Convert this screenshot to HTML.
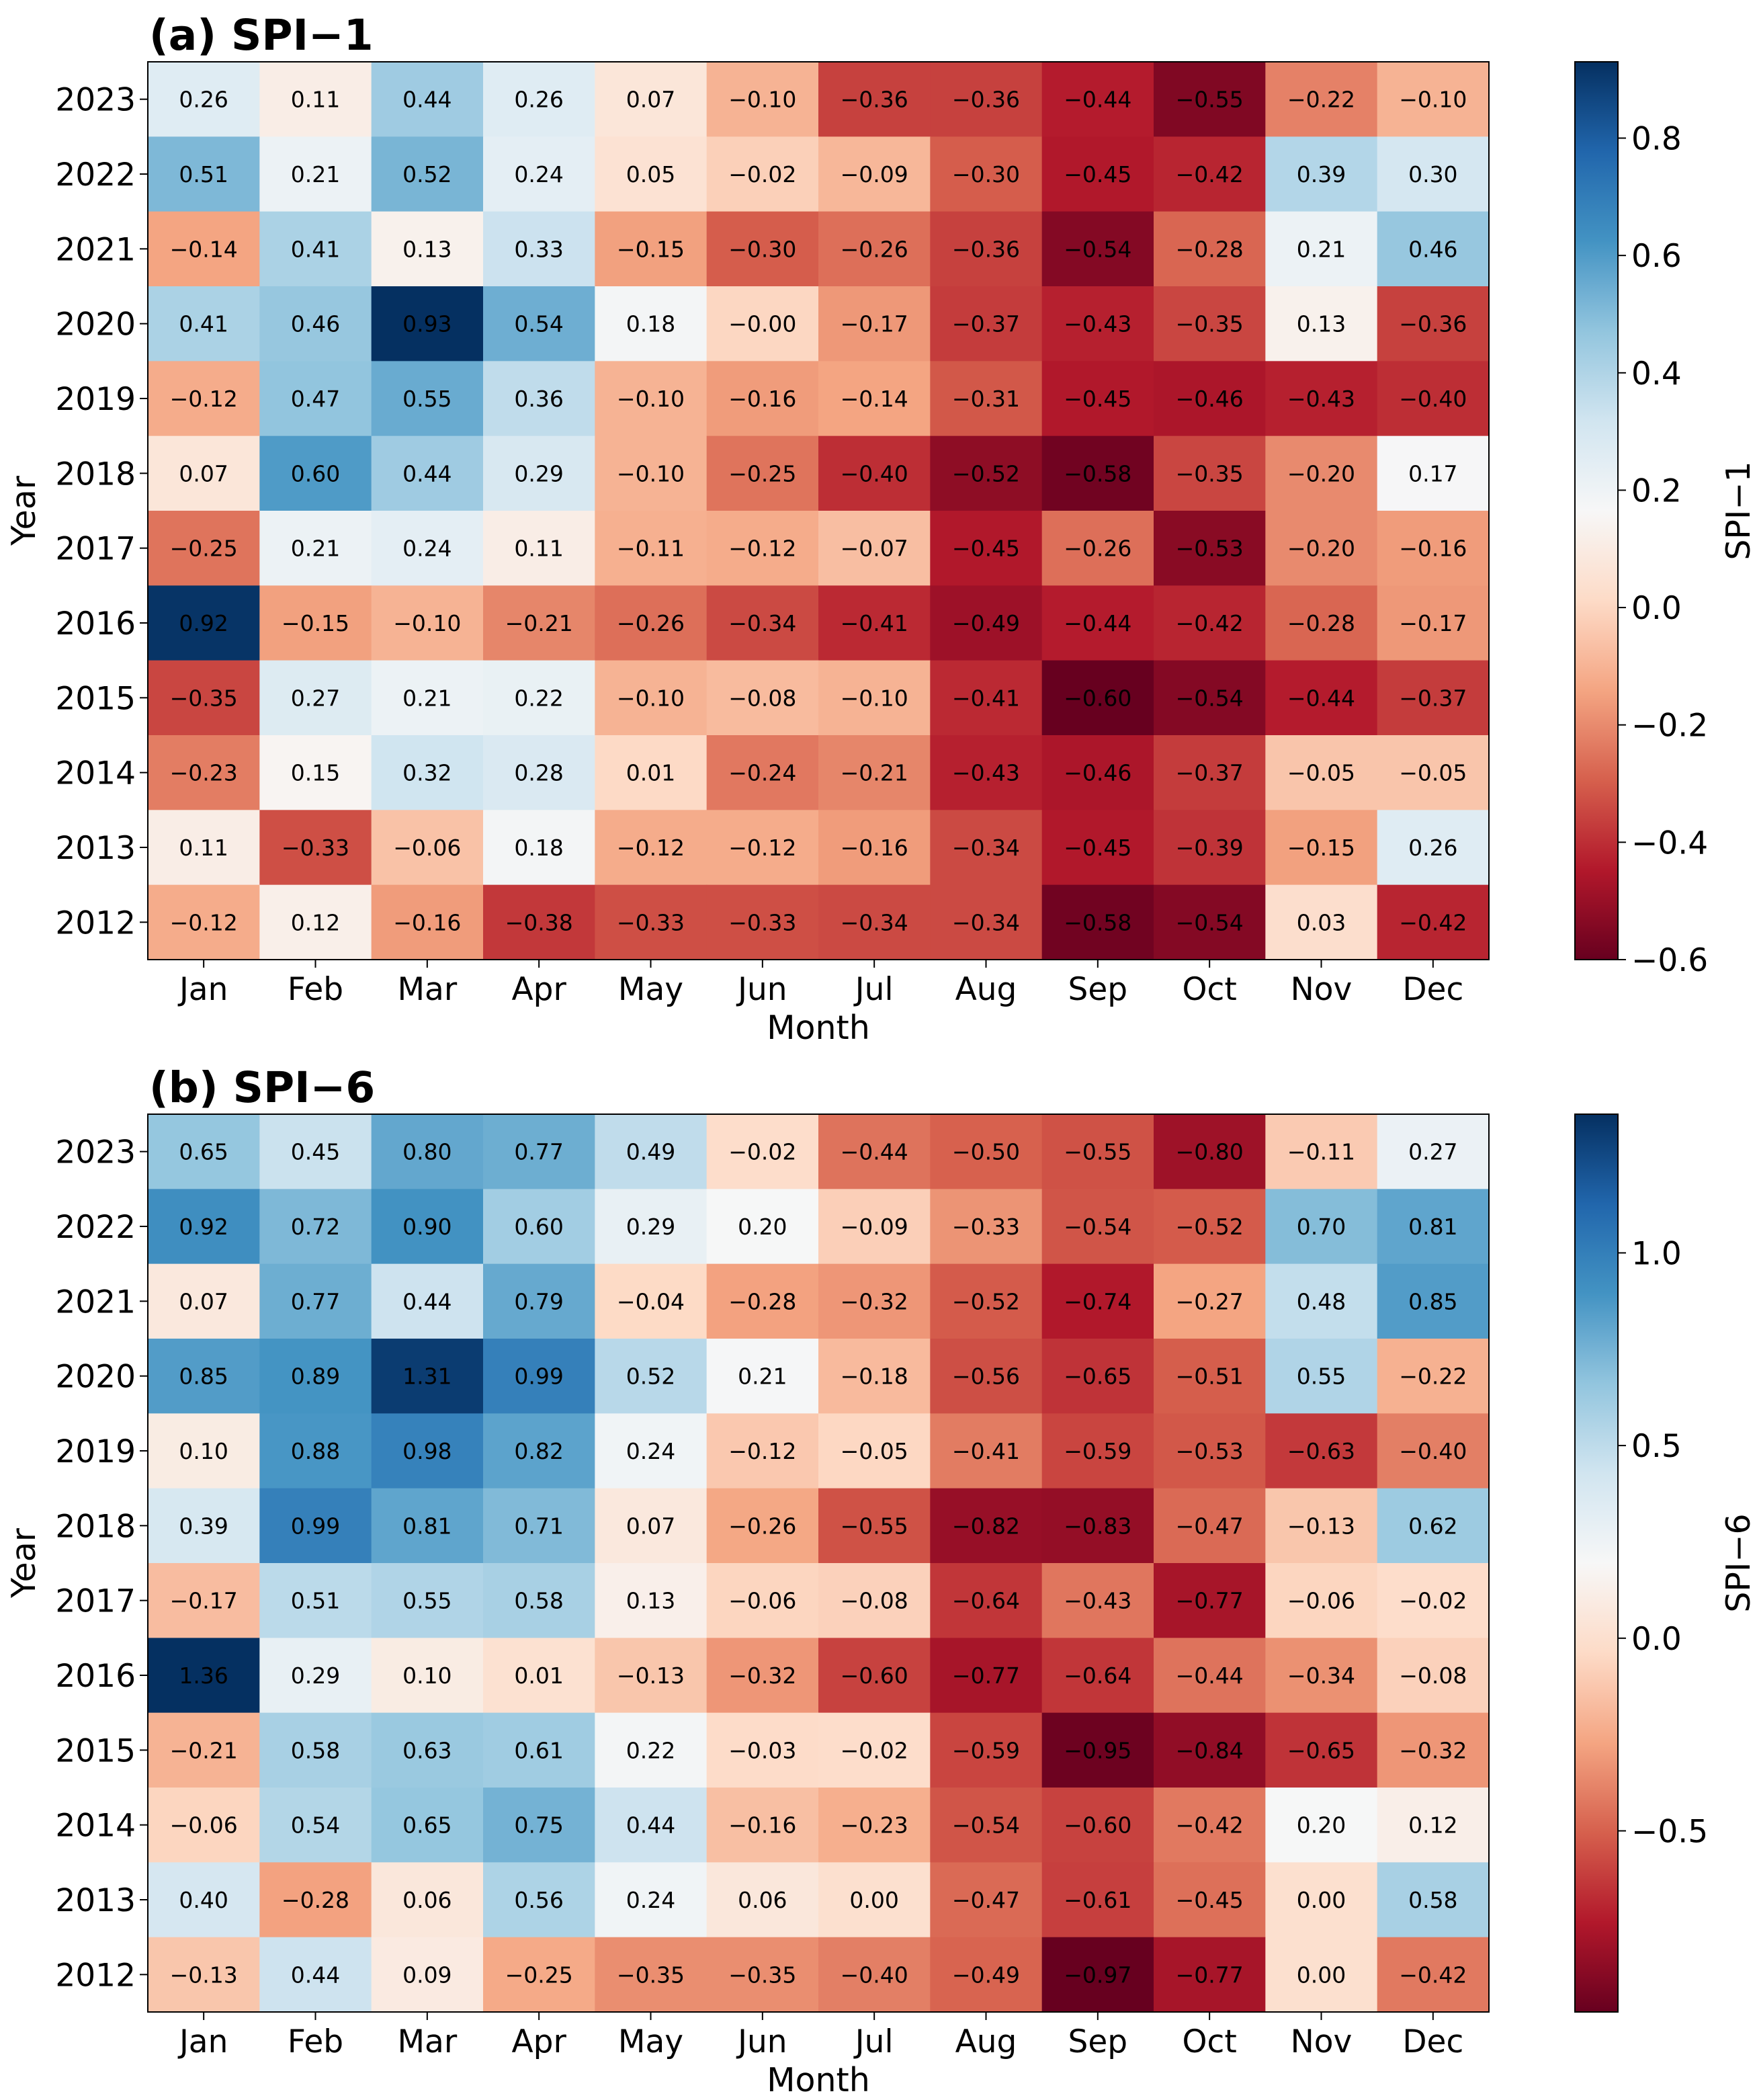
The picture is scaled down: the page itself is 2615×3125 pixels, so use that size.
<!DOCTYPE html>
<html><head><meta charset="utf-8">
<style>
html,body{margin:0;padding:0;background:#fff;}
svg{display:block;font-family:"DejaVu Sans","Liberation Sans",sans-serif;}
</style></head>
<body>
<svg id="chart" xmlns="http://www.w3.org/2000/svg" width="2615" height="3125" viewBox="0 0 2615 3125">
<rect width="2615" height="3125" fill="#fff"/>
</svg>
<script>
const months = ["Jan","Feb","Mar","Apr","May","Jun","Jul","Aug","Sep","Oct","Nov","Dec"];
const years = ["2023","2022","2021","2020","2019","2018","2017","2016","2015","2014","2013","2012"];
const spi1Values = [
[0.26,0.11,0.44,0.26,0.07,-0.10,-0.36,-0.36,-0.44,-0.55,-0.22,-0.10],
[0.51,0.21,0.52,0.24,0.05,-0.02,-0.09,-0.30,-0.45,-0.42,0.39,0.30],
[-0.14,0.41,0.13,0.33,-0.15,-0.30,-0.26,-0.36,-0.54,-0.28,0.21,0.46],
[0.41,0.46,0.93,0.54,0.18,-0.00,-0.17,-0.37,-0.43,-0.35,0.13,-0.36],
[-0.12,0.47,0.55,0.36,-0.10,-0.16,-0.14,-0.31,-0.45,-0.46,-0.43,-0.40],
[0.07,0.60,0.44,0.29,-0.10,-0.25,-0.40,-0.52,-0.58,-0.35,-0.20,0.17],
[-0.25,0.21,0.24,0.11,-0.11,-0.12,-0.07,-0.45,-0.26,-0.53,-0.20,-0.16],
[0.92,-0.15,-0.10,-0.21,-0.26,-0.34,-0.41,-0.49,-0.44,-0.42,-0.28,-0.17],
[-0.35,0.27,0.21,0.22,-0.10,-0.08,-0.10,-0.41,-0.60,-0.54,-0.44,-0.37],
[-0.23,0.15,0.32,0.28,0.01,-0.24,-0.21,-0.43,-0.46,-0.37,-0.05,-0.05],
[0.11,-0.33,-0.06,0.18,-0.12,-0.12,-0.16,-0.34,-0.45,-0.39,-0.15,0.26],
[-0.12,0.12,-0.16,-0.38,-0.33,-0.33,-0.34,-0.34,-0.58,-0.54,0.03,-0.42]
];
const spi6Values = [
[0.65,0.45,0.80,0.77,0.49,-0.02,-0.44,-0.50,-0.55,-0.80,-0.11,0.27],
[0.92,0.72,0.90,0.60,0.29,0.20,-0.09,-0.33,-0.54,-0.52,0.70,0.81],
[0.07,0.77,0.44,0.79,-0.04,-0.28,-0.32,-0.52,-0.74,-0.27,0.48,0.85],
[0.85,0.89,1.31,0.99,0.52,0.21,-0.18,-0.56,-0.65,-0.51,0.55,-0.22],
[0.10,0.88,0.98,0.82,0.24,-0.12,-0.05,-0.41,-0.59,-0.53,-0.63,-0.40],
[0.39,0.99,0.81,0.71,0.07,-0.26,-0.55,-0.82,-0.83,-0.47,-0.13,0.62],
[-0.17,0.51,0.55,0.58,0.13,-0.06,-0.08,-0.64,-0.43,-0.77,-0.06,-0.02],
[1.36,0.29,0.10,0.01,-0.13,-0.32,-0.60,-0.77,-0.64,-0.44,-0.34,-0.08],
[-0.21,0.58,0.63,0.61,0.22,-0.03,-0.02,-0.59,-0.95,-0.84,-0.65,-0.32],
[-0.06,0.54,0.65,0.75,0.44,-0.16,-0.23,-0.54,-0.60,-0.42,0.20,0.12],
[0.40,-0.28,0.06,0.56,0.24,0.06,0.00,-0.47,-0.61,-0.45,0.00,0.58],
[-0.13,0.44,0.09,-0.25,-0.35,-0.35,-0.40,-0.49,-0.97,-0.77,0.00,-0.42]
];
const spi1Ticks = [0.8,0.6,0.4,0.2,0.0,-0.2,-0.4,-0.6];
const spi6Ticks = [1.0,0.5,0.0,-0.5];

const RDBU=[[103,0,31],[178,24,43],[214,96,77],[244,165,130],[253,219,199],[247,247,247],[209,229,240],[146,197,222],[67,147,195],[33,102,172],[5,48,97]];
function cmap(t){t=Math.max(0,Math.min(1,t));const p=t*10,i=Math.min(9,Math.floor(p)),f=p-i;const a=RDBU[i],b=RDBU[i+1];
return `rgb(${Math.round(a[0]+(b[0]-a[0])*f)},${Math.round(a[1]+(b[1]-a[1])*f)},${Math.round(a[2]+(b[2]-a[2])*f)})`;}
const NS="http://www.w3.org/2000/svg";
const svg=document.getElementById('chart');
function el(tag,attrs,parent,text){const e=document.createElementNS(NS,tag);for(const k in attrs)e.setAttribute(k,attrs[k]);if(text!==undefined)e.textContent=text;(parent||svg).appendChild(e);return e;}
function fmt(v){let s=Math.abs(v).toFixed(2);return (v<0||Object.is(v,-0))?'\u2212'+s:s;}

function panel(id,title,label,values,ticks,top){
  const L=220,R=2216,T=top,B=top+1336,cw=(R-L)/12,ch=(B-T)/12;
  let mn=Infinity,mx=-Infinity;values.forEach(r=>r.forEach(v=>{mn=Math.min(mn,v);mx=Math.max(mx,v);}));
  const g=el('g',{},svg);
  
  
  const t=el('text',{x:222,y:T-18,'font-size':63,'font-weight':'bold'},g,title);
  
  
  const xs=c=>L+c*cw, ys=r=>T+r*ch;
  values.forEach((row,r)=>row.forEach((v,c)=>{
    const rc=el('rect',{x:xs(c),y:ys(r),width:cw+0.5,height:ch+0.5,fill:cmap((v-mn)/(mx-mn))},g);
    
    
    const tx=el('text',{x:xs(c)+cw/2,y:ys(r)+ch/2+12,'font-size':33,'text-anchor':'middle',fill:'#000'},g,fmt(v));
    
    
  }));
  el('rect',{x:L,y:T,width:R-L,height:B-T,fill:'none',stroke:'#000','stroke-width':2},g);
  years.forEach((y,r)=>{
    const cy=ys(r)+ch/2;
    el('line',{x1:L-12,x2:L,y1:cy,y2:cy,stroke:'#000','stroke-width':2},g);
    const tl=el('text',{x:L-18,y:cy+17,'font-size':47,'text-anchor':'end'},g,y);
    
    
  });
  months.forEach((m,c)=>{
    const cx=xs(c)+cw/2;
    el('line',{x1:cx,x2:cx,y1:B,y2:B+12,stroke:'#000','stroke-width':2},g);
    const tl=el('text',{x:cx,y:B+60,'font-size':47,'text-anchor':'middle'},g,m);
    
    
  });
  const xl=el('text',{x:(L+R)/2,y:B+118,'font-size':49,'text-anchor':'middle'},g,'Month');
  
  
  const yl=el('text',{x:0,y:0,'font-size':49,'text-anchor':'middle',transform:`translate(52,${(T+B)/2}) rotate(-90)`},g,'Year');
  
  
  const CL=2344,CW=64;
  const gid='grad-'+id;
  const lg=el('linearGradient',{id:gid,x1:0,y1:1,x2:0,y2:0},g);
  for(let i=0;i<=20;i++)el('stop',{offset:i/20,'stop-color':cmap(i/20)},lg);
  const cb=el('rect',{x:CL,y:T,width:CW,height:B-T,fill:`url(#${gid})`,stroke:'#000','stroke-width':2},g);
  
  
  const cy=v=>B-(v-mn)/(mx-mn)*(B-T);
  ticks.forEach(v=>{
    const y=cy(v);
    el('line',{x1:CL+CW,x2:CL+CW+12,y1:y,y2:y,stroke:'#000','stroke-width':2},g);
    const tl=el('text',{x:CL+CW+20,y:y+17,'font-size':47},g,fmt(v).replace(/(\.\d)0$/,'$1'));
    
    
  });
  const cl=el('text',{x:0,y:0,'font-size':49,'text-anchor':'middle',transform:`translate(2604,${(T+B)/2}) rotate(-90)`},g,label);
  
  
}
panel('spi1','(a) SPI\u22121','SPI\u22121',spi1Values,spi1Ticks,92);
panel('spi6','(b) SPI\u22126','SPI\u22126',spi6Values,spi6Ticks,1658);
</script>
</body></html>
